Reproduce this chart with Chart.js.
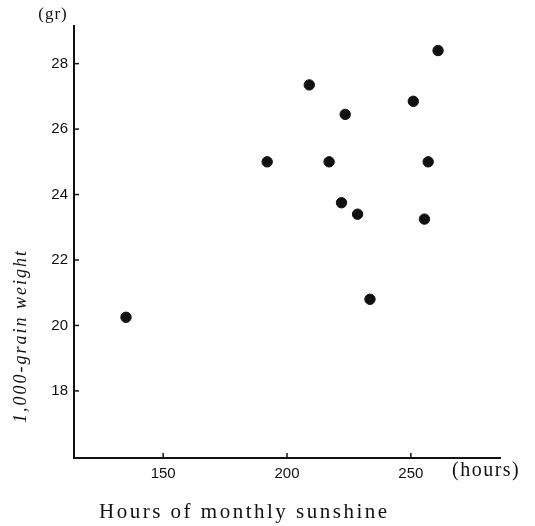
<!DOCTYPE html>
<html>
<head>
<meta charset="utf-8">
<script src="https://cdn.jsdelivr.net/npm/chart.js@4.4.1/dist/chart.umd.min.js"></script>
<style>
  html, body { margin: 0; padding: 0; background: #fff; }
  #wrap { width: 535px; height: 526px; }
</style>
</head>
<body>
<div id="wrap"><canvas id="myChart" width="535" height="526"></canvas></div>
<script>
// hours of monthly sunshine vs 1,000-grain weight (gr)
var sunshineHours = [135, 192, 209, 217, 222, 223.5, 228.5, 233.5, 251, 255.5, 257, 261];
var grainWeight   = [20.25, 25.0, 27.35, 25.0, 23.75, 26.45, 23.4, 20.8, 26.85, 23.25, 25.0, 28.4];
var xTicks = [150, 200, 250];
var yTicks = [18, 20, 22, 24, 26, 28];

var serif = "'Liberation Serif', 'DejaVu Serif', serif";
var sans = "'Liberation Sans', Arial, sans-serif";

var points = sunshineHours.map(function (h, i) {
  return { x: h, y: grainWeight[i] };
});

// small inward tick marks + the free-standing labels
var extras = {
  id: 'extras',
  afterDraw: function (chart) {
    var ctx = chart.ctx;
    var a = chart.chartArea;
    var xs = chart.scales.x, ys = chart.scales.y;
    ctx.save();
    ctx.strokeStyle = '#111';
    ctx.lineWidth = 1.5;
    yTicks.forEach(function (v) {
      var py = ys.getPixelForValue(v);
      ctx.beginPath(); ctx.moveTo(a.left, py); ctx.lineTo(a.left + 5, py); ctx.stroke();
    });
    xTicks.forEach(function (v) {
      var px = xs.getPixelForValue(v);
      ctx.beginPath(); ctx.moveTo(px, a.bottom); ctx.lineTo(px, a.bottom - 5); ctx.stroke();
    });

    ctx.fillStyle = '#111';
    ctx.textBaseline = 'middle';
    ctx.letterSpacing = '1px';
    ctx.font = '17px ' + serif;
    ctx.textAlign = 'center';
    ctx.fillText('(gr)', 53, 15);

    ctx.textAlign = 'left';
    ctx.letterSpacing = '1.5px';
    ctx.font = '20px ' + serif;
    ctx.fillText('(hours)', 452, 471);

    ctx.textBaseline = 'alphabetic';
    ctx.letterSpacing = '2.5px';
    ctx.font = '21px ' + serif;
    ctx.fillText('Hours of monthly sunshine', 99, 518);

    ctx.translate(26, 336);
    ctx.rotate(-Math.PI / 2);
    ctx.textAlign = 'center';
    ctx.letterSpacing = '2px';
    ctx.font = 'italic 18px ' + serif;
    ctx.fillText('1,000-grain weight', 0, 0);
    ctx.restore();
  }
};

const config = {
  type: 'scatter',
  data: {
    datasets: [{
      data: points,
      backgroundColor: '#111',
      borderColor: '#111',
      pointRadius: 5.2,
      pointHoverRadius: 5.2
    }]
  },
  options: {
    responsive: false,
    animation: false,
    layout: { padding: { left: 0, top: 26, right: 35, bottom: 0 } },
    plugins: { legend: { display: false }, tooltip: { enabled: false } },
    scales: {
      x: {
        type: 'linear',
        min: 114,
        max: 286,
        afterBuildTicks: function (s) { s.ticks = xTicks.map(function (v) { return { value: v }; }); },
        afterFit: function (s) { s.height = 68; },
        grid: { display: false, drawTicks: false },
        border: { display: true, color: '#111', width: 2 },
        ticks: { color: '#111', padding: 7, font: { family: sans, size: 15 } }
      },
      y: {
        type: 'linear',
        min: 15.95,
        max: 29.15,
        afterBuildTicks: function (s) { s.ticks = yTicks.map(function (v) { return { value: v }; }); },
        afterFit: function (s) { s.width = 74; },
        grid: { display: false, drawTicks: false },
        border: { display: true, color: '#111', width: 2 },
        ticks: { color: '#111', padding: 6, font: { family: sans, size: 15 } }
      }
    }
  },
  plugins: [extras]
};

const myChart = new Chart(document.getElementById('myChart'), config);
</script>
</body>
</html>
